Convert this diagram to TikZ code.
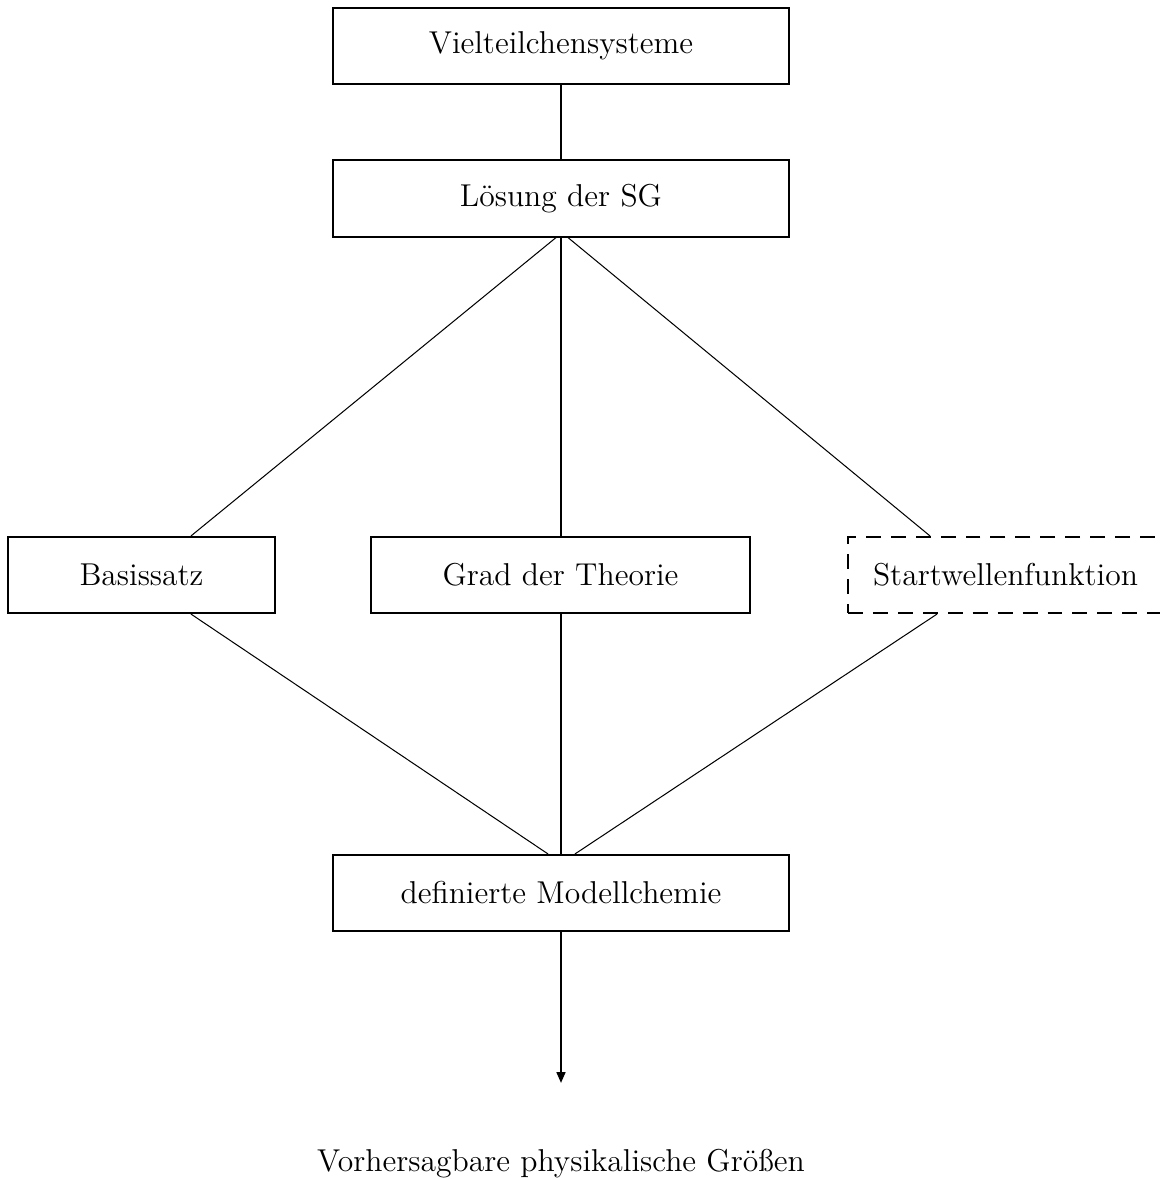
\documentclass[tikz,border=0pt]{standalone}
\usetikzlibrary{calc,arrows.meta}
\begin{document}
\begin{tikzpicture}[x=0.389pt,y=-0.389pt,
  font=\fontsize{12.3}{14}\selectfont,
  box/.style={draw,line width=0.8pt,minimum height=29.6pt,inner sep=0pt,anchor=center},
  wide/.style={box,minimum width=177.4pt},
  thin/.style={line width=0.4pt},
  thick/.style={line width=0.8pt}]
\useasboundingbox (0,0) rectangle (1159,1179);
\node[wide] (V) at (561,46) {Vielteilchensysteme};
\node[wide] (L) at (561,198.5) {Lösung der SG};
\node[box,minimum width=103.9pt] (B) at (141.5,575) {Basissatz};
\node[box,minimum width=147.4pt] (G) at (560.5,575) {Grad der Theorie};
\node[box,minimum width=122.5pt,dash pattern=on 5.8pt off 3.9pt] (S) at (1005.5,575) {Startwellenfunktion};
\node[wide] (D) at (561,893) {definierte Modellchemie};
\node (P) at (561,1164) {Vorhersagbare physikalische Größen};
\coordinate (tip) at (561,1083);
\draw[thick] (V.south) -- (L.north);
\draw[thick] (L.south) -- (L.south |- G.north);
\draw[thin] ($(L.south)+(-5,0)$) -- ($(B.north)+(49.5,0)$);
\draw[thin] ($(L.south)+(7,0)$) -- ($(S.north)+(-75.5,0)$);
\draw[thin] ($(B.south)+(49.5,0)$) -- ($(D.north)+(-13,0)$);
\draw[thick] (D.north |- G.south) -- (D.north);
\draw[thin] ($(S.south)+(-68.5,0)$) -- ($(D.north)+(14,0)$);
\draw[thick,-{Triangle[length=4.2pt,width=3.4pt]}] (D.south) -- (tip);
\end{tikzpicture}
\end{document}
